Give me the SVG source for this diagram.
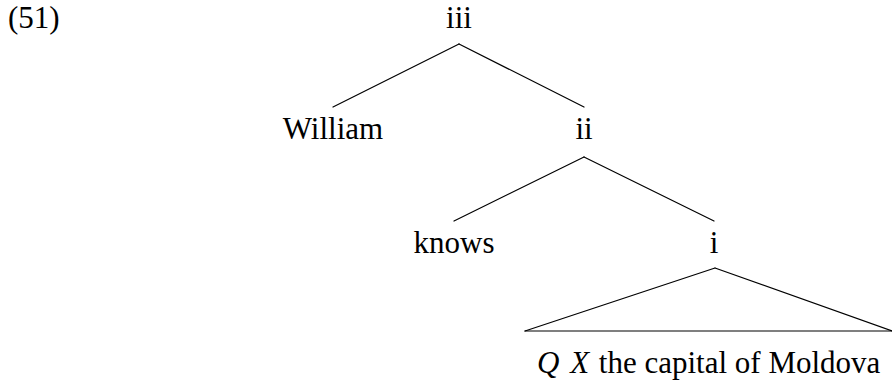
<svg xmlns="http://www.w3.org/2000/svg" width="892" height="381" viewBox="0 0 892 381">
<style>
text{font-family:"Liberation Serif","DejaVu Serif",serif;font-size:31px;fill:#000}
.m{text-anchor:middle}
.e{font-style:italic}
.c line{stroke:#000;stroke-width:1.2;stroke-linecap:round}
</style>
<rect width="892" height="381" fill="#fff"/>
<text id="label" x="8" y="28">(51)</text>
<g class="c" id="connectors">
<line x1="459" y1="44" x2="333" y2="107"/>
<line x1="459" y1="44" x2="584" y2="107"/>
<line x1="584" y1="157" x2="454" y2="221"/>
<line x1="584" y1="157" x2="714" y2="221"/>
<line x1="715" y1="268" x2="525" y2="331"/>
<line x1="715" y1="268" x2="892" y2="331"/>
<line x1="525" y1="331" x2="892" y2="331"/>
</g>
<g id="n-iii"><text class="m" x="459" y="28">iii</text></g>
<g id="n-william"><text class="m" x="333" y="139">William</text></g>
<g id="n-ii"><text class="m" x="584" y="139">ii</text></g>
<g id="n-knows"><text class="m" x="454" y="253">knows</text></g>
<g id="n-i"><text class="m" x="714" y="253">i</text></g>
<g id="n-leaf"><text x="537" y="373"><tspan class="e">Q</tspan><tspan dx="3" class="e"> X</tspan><tspan dx="2"> the capital of Moldova</tspan></text></g>
</svg>
